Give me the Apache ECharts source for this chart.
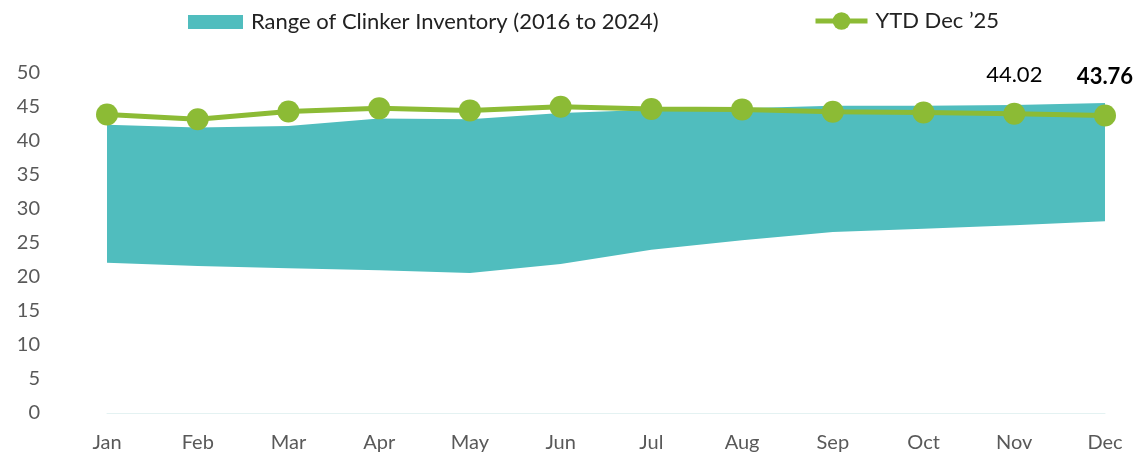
<!DOCTYPE html>
<html>
<head>
<meta charset="utf-8">
<script src="https://cdn.jsdelivr.net/npm/echarts@6/dist/echarts.min.js"></script>
<style>
  html, body { margin: 0; padding: 0; background: #fff; }
  #chart { width: 1139px; height: 457px; }
</style>
</head>
<body>
<div id="chart"></div>
<script>
  // months on the x axis
  var months = ['Jan', 'Feb', 'Mar', 'Apr', 'May', 'Jun', 'Jul', 'Aug', 'Sep', 'Oct', 'Nov', 'Dec'];
  // range of clinker inventory 2016-2024 (low / high)
  var rangeLow = [22.1, 21.6, 21.3, 21.0, 20.6, 21.9, 24.0, 25.4, 26.6, 27.1, 27.6, 28.2];
  var rangeHigh = [42.4, 42.0, 42.2, 43.3, 43.2, 44.1, 44.6, 44.8, 45.2, 45.2, 45.3, 45.6];
  // YTD Dec '25
  var ytd = [43.9, 43.2, 44.35, 44.8, 44.5, 45.05, 44.7, 44.65, 44.3, 44.2, 44.02, 43.76];
  var labelled = { 10: 'normal', 11: 'bold' };

  var font = 'Lato, "Open Sans", sans-serif';
  var rangeName = 'Range of Clinker Inventory (2016 to 2024)';
  var ytdName = 'YTD Dec \u201925';
  var chart = echarts.init(document.getElementById('chart'));

  var rangeDiff = rangeHigh.map(function (v, i) { return +(v - rangeLow[i]).toFixed(2); });
  var ytdData = ytd.map(function (v, i) {
    if (labelled[i]) {
      return {
        value: v,
        label: { show: true, position: 'top', distance: 17, fontSize: 22, color: '#000',
                 fontFamily: font, fontWeight: labelled[i], formatter: v.toFixed(2) }
      };
    }
    return v;
  });

  var option = {
    animation: false,
    backgroundColor: '#fff',
    textStyle: { fontFamily: font },
    legend: [
      {
        top: 6,
        left: 183,
        itemWidth: 55,
        itemHeight: 14,
        textStyle: { fontSize: 22, color: '#222', fontFamily: font, padding: [0, 0, 0, 3] },
        data: [{ name: rangeName, icon: 'rect' }]
      },
      {
        top: 5,
        left: 808,
        itemWidth: 52,
        itemHeight: 22,
        lineStyle: { width: 5, color: '#8cbb35' },
        textStyle: { fontSize: 22, color: '#222', fontFamily: font, padding: [0, 0, 0, 3] },
        data: [{ name: ytdName, lineStyle: { width: 5 } }]
      }
    ],
    grid: { left: 107, right: 34, top: 73, bottom: 44 },
    xAxis: {
      type: 'category',
      data: months,
      boundaryGap: false,
      axisLine: { lineStyle: { color: '#e4f2f2', width: 1 } },
      axisTick: { show: false },
      axisLabel: { fontSize: 20, color: '#595959', margin: 20, fontFamily: font }
    },
    yAxis: {
      type: 'value',
      min: 0,
      max: 50,
      interval: 5,
      splitLine: { show: false },
      axisLine: { show: false },
      axisTick: { show: false },
      axisLabel: { fontSize: 20, color: '#595959', margin: 67, fontFamily: font }
    },
    series: [
      {
        name: 'low',
        type: 'line',
        stack: 'range',
        data: rangeLow,
        symbol: 'none',
        lineStyle: { width: 0 },
        areaStyle: { color: '#ffffff', opacity: 0 },
        silent: true
      },
      {
        name: rangeName,
        type: 'line',
        stack: 'range',
        data: rangeDiff,
        symbol: 'none',
        itemStyle: { color: '#50bdbe' },
        lineStyle: { width: 0 },
        areaStyle: { color: '#50bdbe', opacity: 1 }
      },
      {
        name: ytdName,
        type: 'line',
        data: ytdData,
        symbol: 'circle',
        symbolSize: 22,
        itemStyle: { color: '#8cbb35' },
        lineStyle: { color: '#8cbb35', width: 5 },
        z: 5
      }
    ]
  };
  chart.setOption(option);
</script>
</body>
</html>
